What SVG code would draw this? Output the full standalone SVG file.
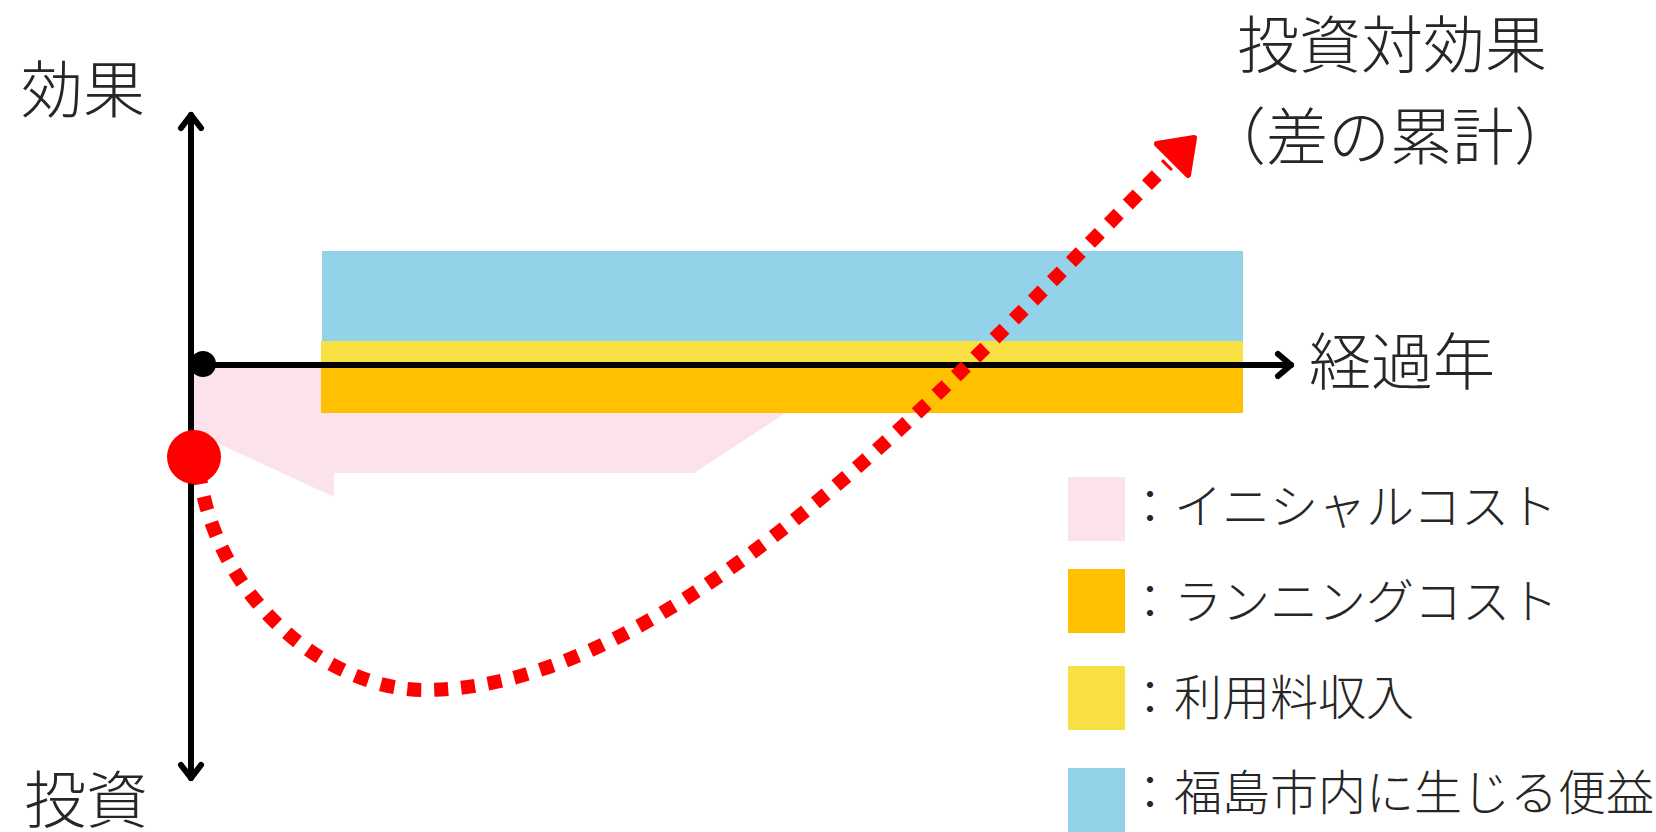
<svg xmlns="http://www.w3.org/2000/svg" width="1656" height="832" viewBox="0 0 1656 832">
<style>
.t{font-family:"Noto Sans CJK JP","Noto Sans CJK SC",sans-serif;fill:#262626;font-weight:300;}
.big{font-size:62px;}
.lg{font-size:48px;}
.pink{fill:#FCE3EB;}
.blue{fill:#94D2EA;}
.yellow{fill:#F8E042;}
.orange{fill:#FFC000;}
.axis{stroke:#000;stroke-width:6;fill:none;stroke-linecap:round;stroke-linejoin:round;}
.dotted{stroke:#FF0000;stroke-width:14;fill:none;stroke-dasharray:14 13;}
</style>
<rect width="1656" height="832" fill="#fff"/>
<g id="bars">
<polygon class="pink" points="191,364 861,364 694,473 334,473 334,497 191,431"/>
<rect class="blue" x="322" y="251" width="921" height="90"/>
<rect class="yellow" x="321" y="341" width="922" height="24"/>
<rect class="orange" x="321" y="364" width="922" height="49"/>
</g>
<g id="connectors">
<line class="axis" x1="191" y1="115" x2="191" y2="778"/>
<polyline class="axis" points="181,128 191,115 201,128"/>
<polyline class="axis" points="181,765 191,778 201,765"/>
<line class="axis" x1="191" y1="365" x2="1291" y2="365"/>
<polyline class="axis" points="1278,354 1291,365 1278,376"/>
<circle cx="203" cy="364" r="13" fill="#000"/>
<circle cx="194" cy="457" r="27" fill="#FF0000"/>
<path class="dotted" d="M199,470 C215,600 330,690 424,690 C674,690 948,384 1168,164"/>
<polygon points="1194,138 1157,144 1188,175" fill="#FF0000" stroke="#FF0000" stroke-width="6" stroke-linejoin="round"/>
</g>
<g id="labels">
<text class="t big" x="21" y="113">効果</text>
<text class="t big" x="24" y="823">投資</text>
<text class="t big" x="1392" y="68" text-anchor="middle">投資対効果</text>
<text class="t big" x="1390" y="160" text-anchor="middle">（差の累計）</text>
<text class="t big" x="1309" y="385">経過年</text>
</g>
<g id="legend">
<rect class="pink" x="1068" y="477" width="57" height="64"/>
<rect class="orange" x="1068" y="569" width="57" height="64"/>
<rect class="yellow" x="1068" y="666" width="57" height="64"/>
<rect class="blue" x="1068" y="768" width="57" height="64"/>
<text class="t lg" x="1126" y="524">：イニシャルコスト</text>
<text class="t lg" x="1126" y="619">：ランニングコスト</text>
<text class="t lg" x="1126" y="715">：利用料収入</text>
<text class="t lg" x="1126" y="810">：福島市内に生じる便益</text>
</g>
</svg>
